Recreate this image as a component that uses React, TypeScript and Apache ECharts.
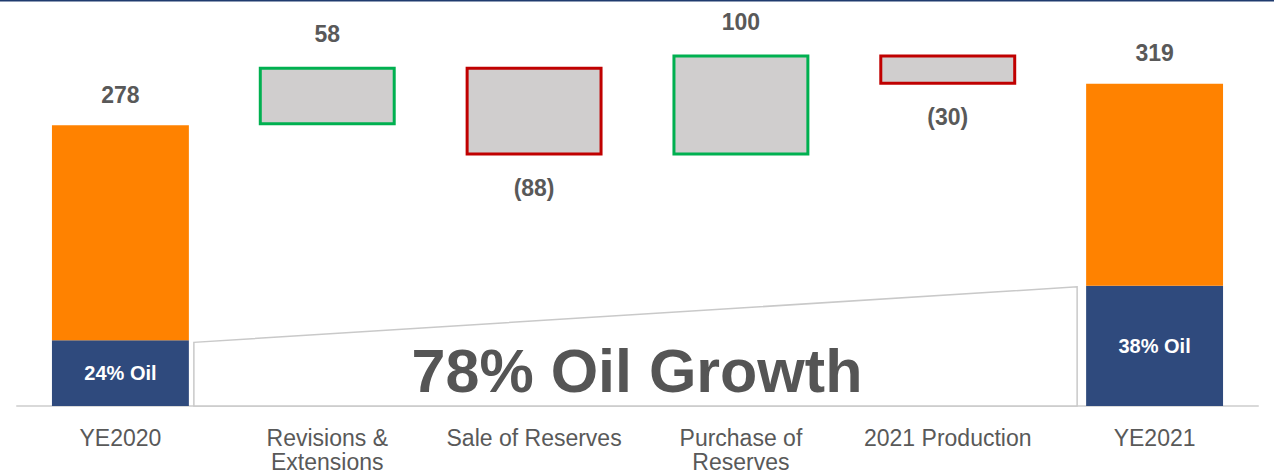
import React, { useEffect, useRef } from "react";
import * as echarts from "echarts";

const categories = [
  "YE2020",
  "Revisions &\nExtensions",
  "Sale of Reserves",
  "Purchase of\nReserves",
  "2021 Production",
  "YE2021",
];
const totals = [278, 319];
const oilValues = [65, 119];
const oilShareLabels = ["24% Oil", "38% Oil"];
const changes = [58, -88, 100, -30];
const growthText = "78% Oil Growth";

const NAVY = "#2F4A7D";
const ORANGE = "#FF8200";
const GRAY_FILL = "#D0CECE";
const GREEN = "#00B050";
const RED = "#C00000";
const LABEL = "#595959";
const FONT = "'Liberation Sans', Arial, sans-serif";

export default function App() {
  const ref = useRef<HTMLDivElement>(null);
  useEffect(() => {
    if (!ref.current) return;
    const chart = echarts.init(ref.current, undefined, { renderer: "svg" });

    const n = categories.length;
    const oilData: any[] = categories.map(() => "-");
    const otherData: any[] = categories.map(() => "-");
    oilData[0] = { value: oilValues[0], label: { formatter: oilShareLabels[0] } };
    oilData[n - 1] = { value: oilValues[1], label: { formatter: oilShareLabels[1] } };
    otherData[0] = { value: totals[0] - oilValues[0], total: totals[0] };
    otherData[n - 1] = { value: totals[1] - oilValues[1], total: totals[1] };

    const baseData: any[] = categories.map(() => "-");
    const deltaData: any[] = categories.map(() => "-");
    let running = totals[0];
    changes.forEach((c, i) => {
      const next = running + c;
      baseData[i + 1] = Math.min(running, next);
      const neg = c < 0;
      deltaData[i + 1] = {
        value: Math.abs(c),
        itemStyle: { borderColor: neg ? RED : GREEN },
        label: {
          position: neg ? "bottom" : "top",
          distance: 21,
          formatter: neg ? `(${Math.abs(c)})` : `${c}`,
        },
      };
      running = next;
    });

    const barWidthFrac = 0.662;

    chart.setOption({
      animation: false,
      grid: { left: 17, right: 16, top: 2, bottom: 69, containLabel: false },
      xAxis: {
        type: "category",
        data: categories,
        axisTick: { show: false },
        axisLine: { lineStyle: { color: "#D9D9D9", width: 2 } },
        axisLabel: {
          color: LABEL,
          fontSize: 23,
          lineHeight: 24,
          fontFamily: FONT,
          margin: 20,
          interval: 0,
          verticalAlign: "top",
        },
      },
      yAxis: { type: "value", min: 0, max: 400, show: false, splitLine: { show: false } },
      graphic: [
        {
          type: "rect",
          shape: { x: 0, y: 0, width: 1274, height: 1.6 },
          style: { fill: "#1F3B6E" },
          silent: true,
        },
        {
          type: "text",
          x: 637,
          y: 371,
          z: 100,
          style: {
            text: growthText,
            fill: "#555555",
            font: `bold 61px ${FONT}`,
            textAlign: "center",
            textVerticalAlign: "middle",
          },
          silent: true,
        },
      ],
      series: [
        {
          type: "custom",
          z: 1,
          silent: true,
          data: [[0, n - 1, oilValues[0], oilValues[1]]],
          renderItem: (params: any, api: any) => {
            const band = api.size([1, 0])[0];
            const hw = (band * barWidthFrac) / 2;
            const p0 = api.coord([api.value(0), api.value(2)]);
            const p1 = api.coord([api.value(1), api.value(3)]);
            const b = api.coord([api.value(0), 0]);
            const xl = p0[0] + hw + 5;
            const xr = p1[0] - hw - 9;
            return {
              type: "polygon",
              shape: {
                points: [
                  [xl, b[1]],
                  [xl, p0[1] + 2],
                  [xr, p1[1] + 1],
                  [xr, b[1]],
                ],
              },
              style: { fill: "#ffffff", stroke: "#C9C9C9", lineWidth: 1.5 },
            };
          },
        },
        {
          name: "Oil",
          type: "bar",
          stack: "total",
          barWidth: `${barWidthFrac * 100}%`,
          barGap: "-100%",
          z: 3,
          itemStyle: { color: NAVY },
          label: {
            show: true,
            position: "inside",
            color: "#ffffff",
            fontWeight: "bold",
            fontSize: 20,
            fontFamily: FONT,
          },
          data: oilData,
        },
        {
          name: "Other",
          type: "bar",
          stack: "total",
          barWidth: `${barWidthFrac * 100}%`,
          barGap: "-100%",
          z: 3,
          itemStyle: { color: ORANGE },
          label: {
            show: true,
            position: "top",
            distance: 19,
            color: LABEL,
            fontWeight: "bold",
            fontSize: 23,
            fontFamily: FONT,
            formatter: (p: any) => `${p.data.total}`,
          },
          data: otherData,
        },
        {
          name: "Base",
          type: "bar",
          stack: "wf",
          barWidth: `${barWidthFrac * 100}%`,
          barGap: "-100%",
          silent: true,
          itemStyle: { color: "transparent" },
          data: baseData,
        },
        {
          name: "Change",
          type: "bar",
          stack: "wf",
          barWidth: `${barWidthFrac * 100}%`,
          barGap: "-100%",
          z: 3,
          itemStyle: { color: GRAY_FILL, borderWidth: 3 },
          label: {
            show: true,
            color: LABEL,
            fontWeight: "bold",
            fontSize: 23,
            fontFamily: FONT,
          },
          data: deltaData,
        },
      ],
    });
    return () => chart.dispose();
  }, []);
  return (
    <div
      ref={ref}
      style={{ position: "absolute", left: 0, top: 0, width: 1274, height: 475, background: "#fff" }}
    />
  );
}
